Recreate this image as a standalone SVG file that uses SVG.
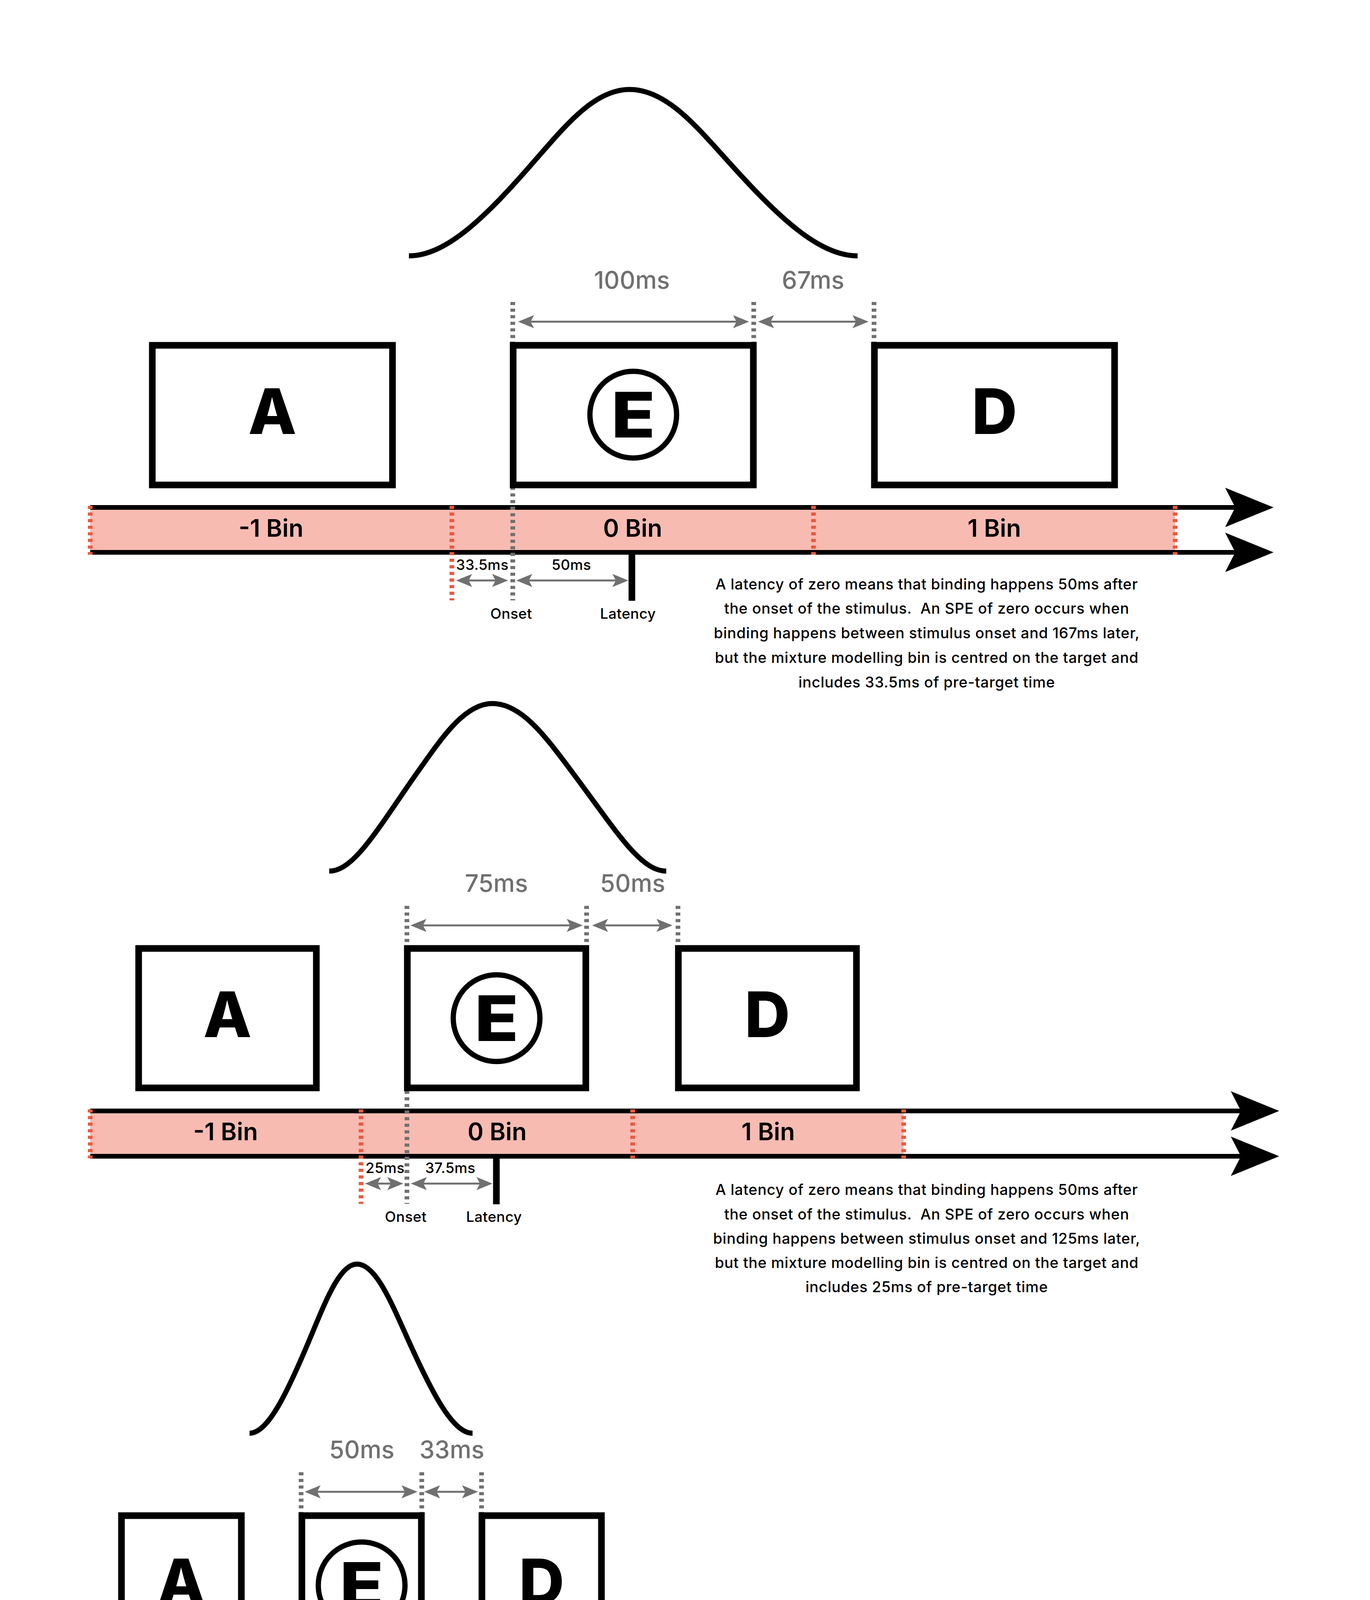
<svg xmlns="http://www.w3.org/2000/svg" width="3508" height="4961" viewBox="0 0 3508 4961">
<style>
text{font-family:Inter,"Noto Sans","Liberation Sans",sans-serif}
.box{fill:#fff;stroke:#000;stroke-width:17}
.circ{fill:none;stroke:#000;stroke-width:13.5}
.ltr{font-weight:800;font-size:161px;text-anchor:middle;fill:#000}
.bin{font-weight:600;font-size:62px;text-anchor:middle;fill:#000}
.dim{font-weight:500;font-size:62px;text-anchor:middle;fill:#707070}
.sm{font-weight:500;font-size:37px;text-anchor:middle;fill:#000;letter-spacing:0.4px}
.para{font-weight:500;font-size:38px;text-anchor:middle;fill:#000;letter-spacing:0.8px}
.band{fill:#F7BBB2}
.tl{stroke:#000;stroke-width:12;fill:none;marker-end:url(#big)}
.gd{stroke:#707070;stroke-width:12;stroke-dasharray:8 8.9;fill:none}
.rd{stroke:#EA5840;stroke-width:12;stroke-dasharray:8 8.9;fill:none}
.da{stroke:#707070;stroke-width:5;fill:none;marker-start:url(#ah);marker-end:url(#ah)}
.lat{stroke:#000;stroke-width:17}
.curve{fill:none;stroke:#000;stroke-width:13}
</style>
<defs>
<marker id="big" markerUnits="userSpaceOnUse" viewBox="-30 -55 135 110" refX="0" refY="0" markerWidth="135" markerHeight="110" orient="auto">
<path d="M98,0 L-26,-50.5 L0,0 L-26,50.5 Z" fill="#000"/>
</marker>
<marker id="ah" markerUnits="userSpaceOnUse" viewBox="-12 -20 48 40" refX="0" refY="0" markerWidth="48" markerHeight="40" orient="auto-start-reverse">
<path d="M32,0 L-9,-16.7 L0,0 L-9,16.7 Z" fill="#707070"/>
</marker>
</defs>
<rect width="3508" height="4961" fill="#fff"/>

<!-- ================= PANEL 1 ================= -->
<g id="p1-curve"><path class="curve" d="M1047,655 C1144,655 1246,553.6 1373,407.1 C1451.5,317.2 1523.9,229 1612,229 C1703.1,229 1777.9,317.2 1859,407.1 C1990.4,553.6 2095.6,655 2196,655"/></g>
<g id="p1-band"><rect class="band" x="231" y="1299" width="2778" height="115"/></g>
<g id="p1-timeline">
<line class="tl" x1="231" y1="1299" x2="3163" y2="1299"/>
<line class="tl" x1="231" y1="1414" x2="3163" y2="1414"/>
</g>
<g id="p1-connectors">
<line class="rd" x1="231" y1="1295" x2="231" y2="1420"/>
<line class="rd" x1="1157" y1="1295" x2="1157" y2="1537"/>
<line class="rd" x1="2083" y1="1295" x2="2083" y2="1420"/>
<line class="rd" x1="3009" y1="1295" x2="3009" y2="1420"/>
<line class="gd" x1="1313" y1="773" x2="1313" y2="1537"/>
<line class="gd" x1="1930" y1="773" x2="1930" y2="880"/>
<line class="gd" x1="2238" y1="773" x2="2238" y2="880"/>
<line class="da" x1="1358.5" y1="823.5" x2="1886" y2="823.5"/>
<line class="da" x1="1973" y1="823.5" x2="2192" y2="823.5"/>
<line class="da" x1="1200" y1="1486" x2="1269" y2="1486"/>
<line class="da" x1="1354" y1="1486" x2="1577" y2="1486"/>
<line class="lat" x1="1618" y1="1414" x2="1618" y2="1538"/>
</g>
<g id="p1-box-A"><rect class="box" x="390" y="884" width="615" height="357.5"/><text class="ltr" x="697.5" y="1111">A</text></g>
<g id="p1-box-E"><rect class="box" x="1314" y="884" width="615" height="357.5"/><circle class="circ" cx="1621.5" cy="1061.5" r="111"/><text class="ltr" transform="translate(1621.5,1120) scale(1.15,1)">E</text></g>
<g id="p1-box-D"><rect class="box" x="2239" y="884" width="615" height="357.5"/><text class="ltr" x="2546.5" y="1111">D</text></g>
<g id="p1-labels">
<text class="dim" x="1618" y="739">100ms</text>
<text class="dim" x="2082" y="739">67ms</text>
<text class="bin" x="694" y="1374">-1 Bin</text>
<text class="bin" x="1620" y="1374">0 Bin</text>
<text class="bin" x="2546" y="1374">1 Bin</text>
<text class="sm" x="1235" y="1459">33.5ms</text>
<text class="sm" x="1463" y="1459">50ms</text>
<text class="sm" x="1309" y="1584">Onset</text>
<text class="sm" x="1608" y="1584">Latency</text>
</g>
<g id="p1-note">
<text class="para" x="2373" y="1509">A latency of zero means that binding happens 50ms after</text>
<text class="para" x="2373" y="1571">the onset of the stimulus.&#160; An SPE of zero occurs when</text>
<text class="para" x="2373" y="1634">binding happens between stimulus onset and 167ms later,</text>
<text class="para" x="2373" y="1697">but the mixture modelling bin is centred on the target and</text>
<text class="para" x="2373" y="1760">includes 33.5ms of pre-target time</text>
</g>

<!-- ================= PANEL 2 ================= -->
<g id="p2-curve"><path class="curve" d="M843,2230 C905.7,2230 963,2127.9 1066.6,1980.3 C1130.6,1889.8 1189.1,1801 1261,1801 C1337.5,1801 1399.8,1889.8 1467.9,1980.3 C1578.3,2127.9 1639.3,2230 1706,2230"/></g>
<g id="p2-band"><rect class="band" x="231" y="2844" width="2083" height="116"/></g>
<g id="p2-timeline">
<line class="tl" x1="231" y1="2844" x2="3177.5" y2="2844"/>
<line class="tl" x1="231" y1="2960" x2="3177.5" y2="2960"/>
</g>
<g id="p2-connectors">
<line class="rd" x1="231" y1="2840" x2="231" y2="2965"/>
<line class="rd" x1="924.5" y1="2840" x2="924.5" y2="3082"/>
<line class="rd" x1="1620" y1="2840" x2="1620" y2="2965"/>
<line class="rd" x1="2314" y1="2840" x2="2314" y2="2965"/>
<line class="gd" x1="1042" y1="2319" x2="1042" y2="3082"/>
<line class="gd" x1="1502" y1="2319" x2="1502" y2="2424"/>
<line class="gd" x1="1736" y1="2319" x2="1736" y2="2424"/>
<line class="da" x1="1083" y1="2369" x2="1460" y2="2369"/>
<line class="da" x1="1548" y1="2369" x2="1690" y2="2369"/>
<line class="da" x1="966.7" y1="3030" x2="1000.6" y2="3030"/>
<line class="da" x1="1084" y1="3030" x2="1229" y2="3030"/>
<line class="lat" x1="1271" y1="2960" x2="1271" y2="3083"/>
</g>
<g id="p2-box-A"><rect class="box" x="355" y="2428" width="455" height="357"/><text class="ltr" x="582.5" y="2655">A</text></g>
<g id="p2-box-E"><rect class="box" x="1043" y="2428" width="457" height="357"/><circle class="circ" cx="1271.5" cy="2606.5" r="111"/><text class="ltr" transform="translate(1271.5,2665) scale(1.15,1)">E</text></g>
<g id="p2-box-D"><rect class="box" x="1737" y="2428" width="456" height="357"/><text class="ltr" x="1965" y="2655">D</text></g>
<g id="p2-labels">
<text class="dim" x="1271" y="2283">75ms</text>
<text class="dim" x="1620" y="2283">50ms</text>
<text class="bin" x="577.5" y="2919">-1 Bin</text>
<text class="bin" x="1273" y="2919">0 Bin</text>
<text class="bin" x="1967" y="2919">1 Bin</text>
<text class="sm" x="986" y="3003">25ms</text>
<text class="sm" x="1153" y="3003">37.5ms</text>
<text class="sm" x="1039" y="3128">Onset</text>
<text class="sm" x="1265" y="3128">Latency</text>
</g>
<g id="p2-note">
<text class="para" x="2373" y="3059">A latency of zero means that binding happens 50ms after</text>
<text class="para" x="2373" y="3122">the onset of the stimulus.&#160; An SPE of zero occurs when</text>
<text class="para" x="2373" y="3184">binding happens between stimulus onset and 125ms later,</text>
<text class="para" x="2373" y="3246">but the mixture modelling bin is centred on the target and</text>
<text class="para" x="2373" y="3308">includes 25ms of pre-target time</text>
</g>

<!-- ================= PANEL 3 ================= -->
<g id="p3-curve"><path class="curve" d="M639,3669 C686.3,3669 735.8,3566 797.7,3417 C835.9,3325.6 871.1,3236 914,3236 C960.2,3236 998.1,3325.6 1039.2,3417 C1105.8,3566 1159.1,3669 1210,3669"/></g>
<g id="p3-band"><rect class="band" x="231" y="4295" width="1389" height="115"/></g>
<g id="p3-timeline">
<line class="tl" x1="231" y1="4295" x2="3177.5" y2="4295"/>
<line class="tl" x1="231" y1="4410" x2="3177.5" y2="4410"/>
</g>
<g id="p3-connectors">
<line class="rd" x1="231" y1="4291" x2="231" y2="4415"/>
<line class="rd" x1="694" y1="4291" x2="694" y2="4533"/>
<line class="rd" x1="1157" y1="4291" x2="1157" y2="4415"/>
<line class="rd" x1="1620" y1="4291" x2="1620" y2="4415"/>
<line class="gd" x1="771" y1="3769" x2="771" y2="4533"/>
<line class="gd" x1="1080" y1="3769" x2="1080" y2="3875"/>
<line class="gd" x1="1233" y1="3769" x2="1233" y2="3875"/>
<line class="da" x1="812" y1="3819" x2="1037" y2="3819"/>
<line class="da" x1="1118" y1="3819" x2="1192" y2="3819"/>
<line class="da" x1="809" y1="4481" x2="887" y2="4481"/>
<line class="lat" x1="924.5" y1="4410" x2="924.5" y2="4534"/>
</g>
<g id="p3-box-A"><rect class="box" x="311" y="3880" width="307" height="357"/><text class="ltr" x="464.5" y="4107">A</text></g>
<g id="p3-box-E"><rect class="box" x="773" y="3880" width="306" height="357"/><circle class="circ" cx="926" cy="4058.5" r="111"/><text class="ltr" transform="translate(926,4116) scale(1.15,1)">E</text></g>
<g id="p3-box-D"><rect class="box" x="1234" y="3880" width="306" height="357"/><text class="ltr" x="1387" y="4107">D</text></g>
<g id="p3-labels">
<text class="dim" x="926.5" y="3733">50ms</text>
<text class="dim" x="1157" y="3733">33ms</text>
<text class="bin" x="461.5" y="4370">-1 Bin</text>
<text class="bin" x="925.5" y="4370">0 Bin</text>
<text class="bin" x="1388.5" y="4370">1 Bin</text>
<text class="sm" x="846" y="4458">25ms</text>
<text class="sm" x="771" y="4578">Onset</text>
<text class="sm" x="921" y="4578">Latency</text>
</g>
<g id="p3-note">
<text class="para" x="2373" y="4483">A latency of zero means that binding happens 50ms after</text>
<text class="para" x="2373" y="4546">the onset of the stimulus.&#160; An SPE of zero occurs when</text>
<text class="para" x="2373" y="4608">binding happens between stimulus onset and 83ms later,</text>
<text class="para" x="2373" y="4670">but the mixture modelling bin is centred on the target and</text>
<text class="para" x="2373" y="4732">includes 16.5ms of pre-target time</text>
</g>
</svg>
